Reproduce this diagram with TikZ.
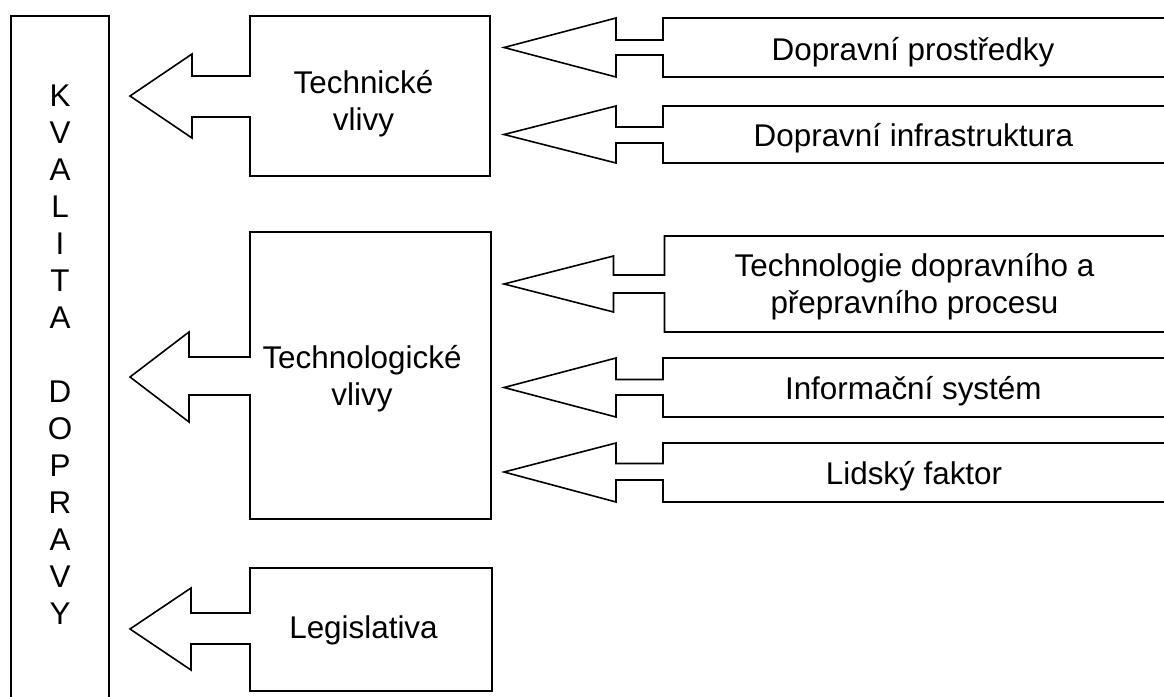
\documentclass[tikz,border=0pt]{standalone}
\usepackage{fontspec}
\setmainfont{Liberation Sans}
\tikzset{
  shapeline/.style={draw=black, line width=1.6pt, line join=miter, fill=white},
  bigtext/.style={anchor=base, inner sep=0pt, font=\fontsize{31.4}{37}\selectfont},
}
\begin{document}
\begin{tikzpicture}[x=1pt,y=-1pt]
\useasboundingbox (0,0) rectangle (1164,696);
\clip (0,0) rectangle (1164,696);
\fill[white] (0,0) rectangle (1164,696);

% main vertical box
\draw[shapeline] (11,16) rectangle (109,720);
\node[bigtext] (kval) at (60,106) {\begin{tabular}[t]{@{}c@{}}K\\V\\A\\L\\I\\T\\A\\ \\D\\O\\P\\R\\A\\V\\Y\end{tabular}};

% Technicke vlivy
\draw[shapeline] (490,16) -- (250,16) -- (250,76) -- (192,76) -- (192,54) -- (130,96)
  -- (192,138) -- (192,117) -- (250,117) -- (250,176) -- (490,176) -- cycle;
\node[bigtext] (tech) at (363.5,93) {\begin{tabular}[t]{@{}c@{}}Technické\\vlivy\end{tabular}};

% Technologicke vlivy
\draw[shapeline] (491,232) -- (250,232) -- (250,357) -- (189,357) -- (189,332) -- (130,377)
  -- (189,422) -- (189,395) -- (250,395) -- (250,519) -- (491,519) -- cycle;
\node[bigtext] (techn) at (362,368) {\begin{tabular}[t]{@{}c@{}}Technologické\\vlivy\end{tabular}};

% Legislativa
\draw[shapeline] (492,568) -- (250,568) -- (250,613) -- (191,613) -- (191,588) -- (130,629)
  -- (191,670) -- (191,644) -- (250,644) -- (250,691) -- (492,691) -- cycle;
\node[bigtext] (legis) at (363.5,638) {Legislativa};

% Right callouts
\draw[shapeline] (1180,18) -- (663,18) -- (663,40) -- (616,40) -- (616,18) -- (504,47.5)
  -- (616,77) -- (616,55) -- (663,55) -- (663,77) -- (1180,77) -- cycle;
\node[bigtext] (dprostr) at (913,60) {Dopravní prostředky};

\draw[shapeline] (1180,106) -- (663,106) -- (663,127) -- (616,127) -- (616,106) -- (504,134.5)
  -- (616,163) -- (616,143) -- (663,143) -- (663,163) -- (1180,163) -- cycle;
\node[bigtext] (dinfra) at (913.4,146.7) {Dopravní infrastruktura};

\draw[shapeline] (1180,236) -- (664.5,236) -- (664.5,275) -- (613.5,275) -- (613.5,256) -- (504,284)
  -- (613.5,312) -- (613.5,293) -- (664.5,293) -- (664.5,332) -- (1180,332) -- cycle;
\node[bigtext] (tproc) at (914.5,276) {\begin{tabular}[t]{@{}c@{}}Technologie dopravního a\\přepravního procesu\end{tabular}};

\draw[shapeline] (1180,358) -- (663,358) -- (663,379.5) -- (616,379.5) -- (616,358) -- (504,387.5)
  -- (616,417) -- (616,395) -- (663,395) -- (663,417) -- (1180,417) -- cycle;
\node[bigtext] (infsys) at (913.3,399) {Informační systém};

\draw[shapeline] (1180,443) -- (663,443) -- (663,463.5) -- (616,463.5) -- (616,443) -- (504,472)
  -- (616,502) -- (616,480) -- (663,480) -- (663,502) -- (1180,502) -- cycle;
\node[bigtext] (lidsky) at (914,484) {Lidský faktor};
\end{tikzpicture}
\end{document}
